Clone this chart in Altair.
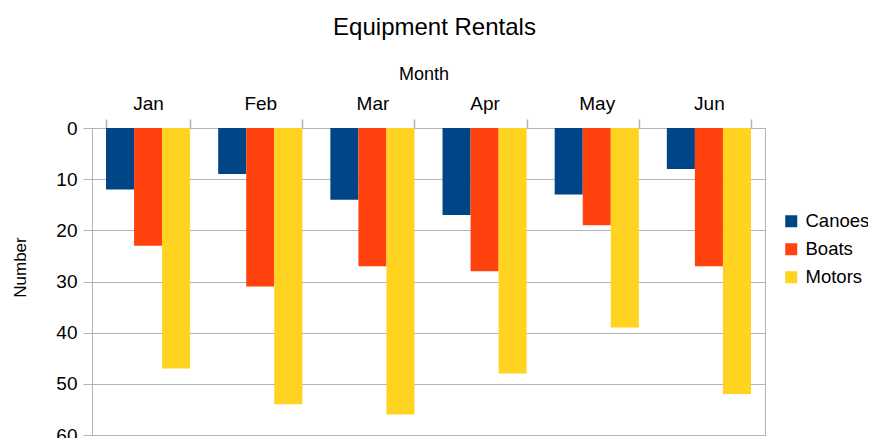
import altair as alt
import pandas as pd

months = ["Jan", "Feb", "Mar", "Apr", "May", "Jun"]
series = ["Canoes", "Boats", "Motors"]
canoes = [12, 9, 14, 17, 13, 8]
boats = [23, 31, 27, 28, 19, 27]
motors = [47, 54, 56, 48, 39, 52]
colors = ["#004586", "#ff420e", "#ffd320"]
y_ticks = [0, 10, 20, 30, 40, 50, 60]

rows = []
for i, m in enumerate(months):
    for s, vals in zip(series, [canoes, boats, motors]):
        rows.append({"Month": m, "Series": s, "Number": vals[i]})
df = pd.DataFrame(rows)

FONT = "Liberation Sans"
GRAY = "#b3b3b3"

chart = alt.Chart(df).mark_bar().encode(
    x=alt.X(
        "Month:N", sort=months,
        scale=alt.Scale(paddingInner=0.25, paddingOuter=0.125),
        axis=alt.Axis(
            orient="top", title="Month", labelAngle=0, tickBand="extent",
            grid=False, domain=False, tickSize=9, tickColor=GRAY, tickWidth=1.5,
            labelPadding=6, labelFontSize=19, labelFont=FONT, labelColor="black",
            titleFontSize=18, titleFont=FONT, titleFontWeight="normal", titleColor="black",
            titleBaseline="alphabetic", titleY=-49, titleX=331.5, titleAlign="center",
        ),
    ),
    xOffset=alt.XOffset("Series:N", sort=series,
                        scale=alt.Scale(paddingInner=0, paddingOuter=0)),
    y=alt.Y(
        "Number:Q",
        scale=alt.Scale(domain=[0, 60], reverse=True, nice=False, zero=True),
        axis=alt.Axis(
            values=y_ticks, title="Number", grid=True, gridColor=GRAY,
            domainColor=GRAY, tickColor=GRAY, tickSize=9, labelPadding=6,
            labelFontSize=19, labelFont=FONT, labelColor="black",
            titleFontSize=17, titleFont=FONT, titleFontWeight="normal", titleColor="black",
            titleAngle=270, titleBaseline="middle", titleAlign="center",
            titleX=-72, titleY=139,
        ),
    ),
    color=alt.Color(
        "Series:N", sort=series,
        scale=alt.Scale(domain=series, range=colors),
        legend=alt.Legend(
            title=None, orient="none", legendX=690, legendY=84,
            symbolType="square", symbolSize=144, symbolStrokeWidth=0,
            labelFontSize=18.5, labelFont=FONT, labelColor="black",
            rowPadding=9, labelOffset=5, padding=0,
        ),
    ),
).properties(
    width=673,
    height=307,
    title=alt.TitleParams(
        "Equipment Rentals", fontSize=24, font=FONT, fontWeight="normal",
        color="black", anchor="middle", frame="group", baseline="alphabetic",
        offset=6, dx=6,
    ),
    autosize=alt.AutoSizeParams(type="none"),
    padding={"left": 84, "top": 120, "right": 103, "bottom": 20},
).configure_view(stroke=GRAY, strokeWidth=1)

chart.save("out.html", embed_options={"renderer": "svg", "actions": False})
